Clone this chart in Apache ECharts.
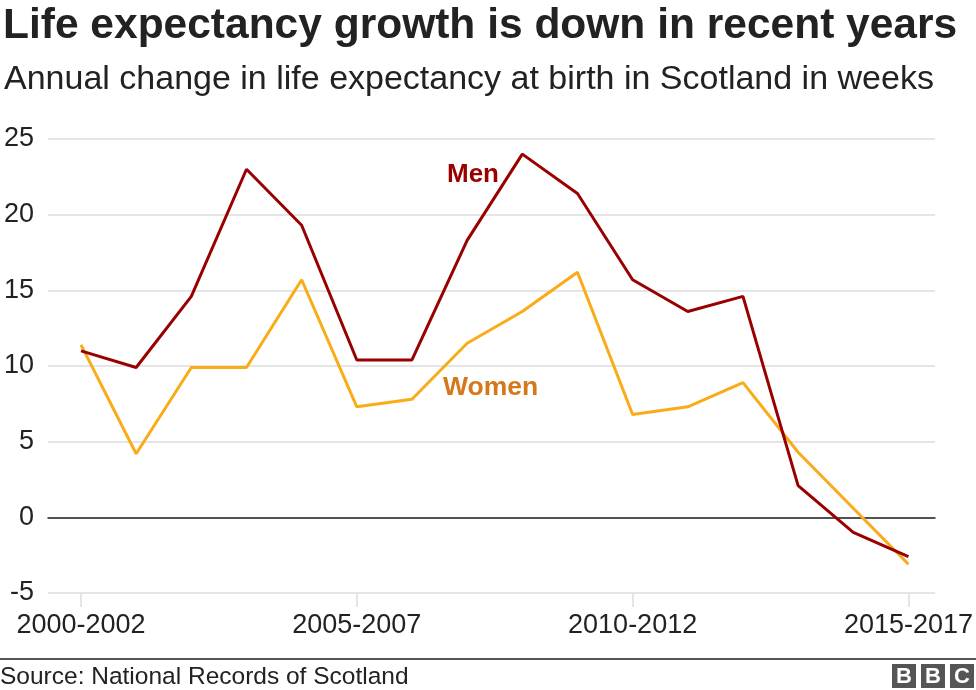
<!DOCTYPE html>
<html>
<head>
<meta charset="utf-8">
<script src="https://cdn.jsdelivr.net/npm/echarts@6/dist/echarts.min.js"></script>
<style>html,body{margin:0;padding:0;background:#fff}#c{width:976px;height:690px}</style>
</head>
<body>
<div id="c"></div>
<script>
const categories = ['2000-2002','2001-2003','2002-2004','2003-2005','2004-2006','2005-2007','2006-2008','2007-2009','2008-2010','2009-2011','2010-2012','2011-2013','2012-2014','2013-2015','2014-2016','2015-2017'];
const men   = [11.0, 9.9, 14.6, 23.0, 19.3, 10.4, 10.4, 18.3, 24.0, 21.4, 15.7, 13.6, 14.6, 2.1, -1.0, -2.6];
const women = [11.4, 4.2, 9.9, 9.9, 15.7, 7.3, 7.8, 11.5, 13.6, 16.2, 6.8, 7.3, 8.9, 4.3, 0.6, -3.1];
const yTicks = [-5, 0, 5, 10, 15, 20, 25];

const FONT = '"Liberation Sans", Arial, Helvetica, sans-serif';
const chart = echarts.init(document.getElementById('c'));
const yMin = yTicks[0], yMax = yTicks[yTicks.length-1];

chart.setOption({
  animation: false,
  textStyle: { fontFamily: FONT },
  grid: [
    { left: 48, right: 41, top: 139, bottom: 97 },
    { left: 81, right: 64, top: 139, bottom: 97 }
  ],
  xAxis: [
    { gridIndex: 0, type: 'value', min: 0, max: 1, show: true,
      axisLine: { show: true, onZero: true, lineStyle: { color: '#222', width: 1.5 } },
      axisTick: { show: false }, axisLabel: { show: false }, splitLine: { show: false } },
    { gridIndex: 1, type: 'category', data: categories, boundaryGap: false,
      axisLine: { show: false, onZero: false },
      axisTick: { show: true, interval: 4, length: 14, lineStyle: { color: '#ddd', width: 1.5 } },
      axisLabel: { interval: 4, fontSize: 27, color: '#222', margin: 19, fontFamily: FONT },
      splitLine: { show: false } }
  ],
  yAxis: [
    { gridIndex: 0, type: 'value', min: yMin, max: yMax, interval: 5,
      axisLine: { show: false }, axisTick: { show: false },
      axisLabel: { fontSize: 27, color: '#222', margin: 14, fontFamily: FONT },
      splitLine: { show: true, lineStyle: { color: '#dddddd', width: 1.5 } } },
    { gridIndex: 1, type: 'value', min: yMin, max: yMax, interval: 5, show: false,
      splitLine: { show: false } }
  ],
  series: [
    { name: 'Women', type: 'line', xAxisIndex: 1, yAxisIndex: 1, data: women,
      symbol: 'none', lineStyle: { color: '#FAAB18', width: 3 }, z: 3 },
    { name: 'Men', type: 'line', xAxisIndex: 1, yAxisIndex: 1, data: men,
      symbol: 'none', lineStyle: { color: '#990000', width: 3 }, z: 4 }
  ],
  graphic: [
    { type: 'text', left: 3, top: 5, style: { text: 'Life expectancy growth is down in recent years', font: 'bold 42.5px ' + FONT, fill: '#222' } },
    { type: 'text', left: 4, top: 63, style: { text: 'Annual change in life expectancy at birth in Scotland in weeks', font: '34px ' + FONT, fill: '#222' } },
    { type: 'text', left: 447, top: 162, style: { text: 'Men', font: 'bold 26px ' + FONT, fill: '#990000' } },
    { type: 'text', left: 443, top: 374, style: { text: 'Women', font: 'bold 26.5px ' + FONT, fill: '#D4781A' } },
    { type: 'rect', shape: { x: 0, y: 658, width: 976, height: 2 }, style: { fill: '#555' } },
    { type: 'text', left: 0, top: 665, style: { text: 'Source: National Records of Scotland', font: '24.5px ' + FONT, fill: '#222' } },
    { type: 'rect', shape: { x: 892, y: 664, width: 24, height: 24 }, style: { fill: '#555' } },
    { type: 'rect', shape: { x: 921, y: 664, width: 24, height: 24 }, style: { fill: '#555' } },
    { type: 'rect', shape: { x: 950, y: 664, width: 24, height: 24 }, style: { fill: '#555' } },
    { type: 'text', x: 904, y: 677, style: { text: 'B', font: 'bold 22px ' + FONT, fill: '#fff', align: 'center', verticalAlign: 'middle' } },
    { type: 'text', x: 933, y: 677, style: { text: 'B', font: 'bold 22px ' + FONT, fill: '#fff', align: 'center', verticalAlign: 'middle' } },
    { type: 'text', x: 962, y: 677, style: { text: 'C', font: 'bold 22px ' + FONT, fill: '#fff', align: 'center', verticalAlign: 'middle' } }
  ]
});
</script>
</body>
</html>
